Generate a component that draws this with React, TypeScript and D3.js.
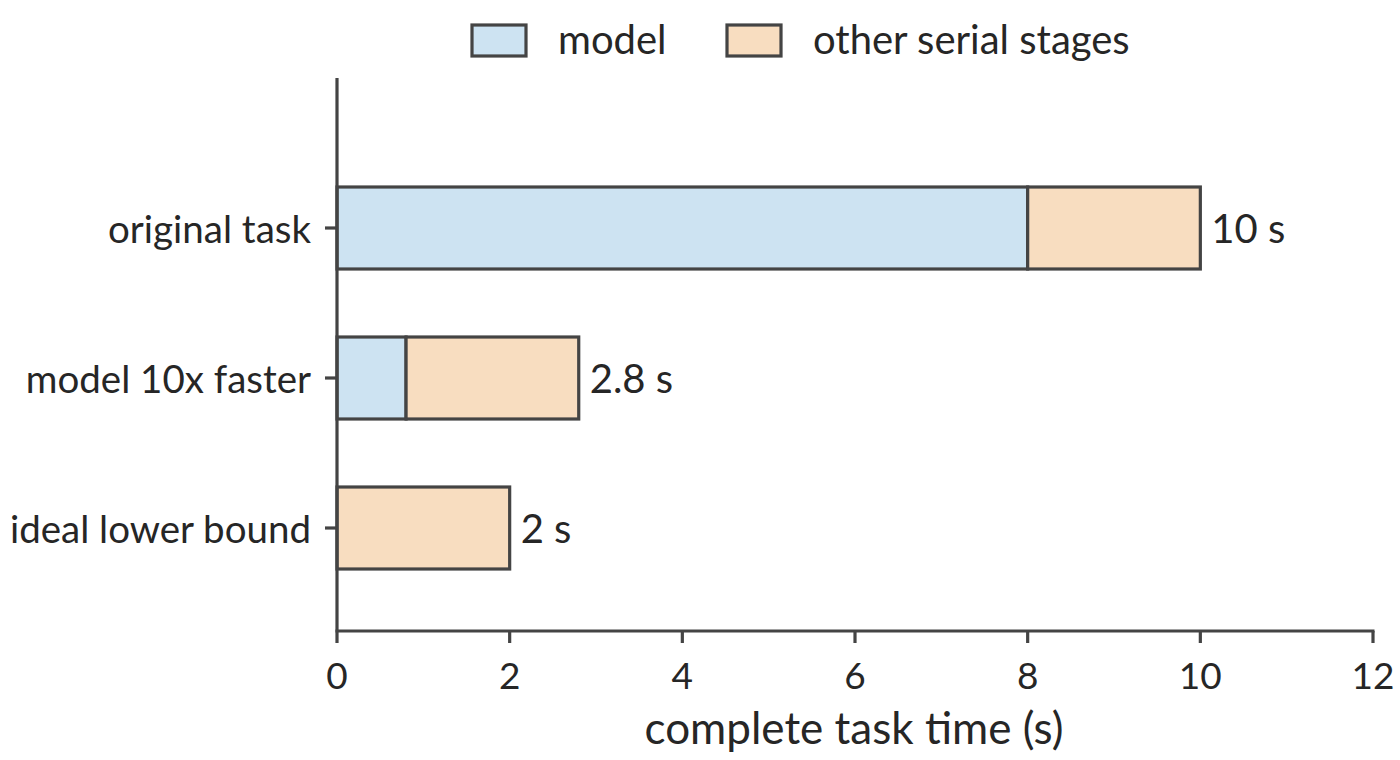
import React from "react";
import * as d3 from "d3";

const categories = ["original task", "model 10x faster", "ideal lower bound"];
const modelTime = [8, 0.8, 0];
const otherTime = [2, 2, 2];
const totalLabels = ["10 s", "2.8 s", "2 s"];
const xTicks = [0, 2, 4, 6, 8, 10, 12];
const seriesNames = ["model", "other serial stages"];
const seriesColors = ["#cde3f2", "#f8ddc0"];

const W = 1400;
const H = 760;
const FONT = "Lato, 'Noto Sans', sans-serif";
const STROKE = "#444444";
const TEXT = "#262626";

export default function App() {
  const x = d3.scaleLinear().domain([0, 12]).range([337, 1373]);
  const y = d3.scalePoint<string>().domain(categories).range([228, 528]);
  const barH = 82;
  const axisY = 631;
  const axisTop = 78;
  const sw = 3.2;

  return (
    <svg width={W} height={H} style={{ position: "absolute", left: 0, top: 0 }} fontFamily={FONT}>
      <rect width={W} height={H} fill="#fff" />
      {categories.map((c, i) => {
        const cy = y(c)!;
        const m = modelTime[i];
        const o = otherTime[i];
        return (
          <g key={c}>
            {m > 0 && (
              <rect x={x(0)} y={cy - barH / 2} width={x(m) - x(0)} height={barH}
                fill={seriesColors[0]} stroke={STROKE} strokeWidth={sw} />
            )}
            <rect x={x(m)} y={cy - barH / 2} width={x(m + o) - x(m)} height={barH}
              fill={seriesColors[1]} stroke={STROKE} strokeWidth={sw} />
            <text x={x(m + o) + 11} y={cy} dy="0.38em" fontSize={40} fill={TEXT}>
              {totalLabels[i]}
            </text>
            <line x1={x(0) - 12} x2={x(0)} y1={cy} y2={cy} stroke={STROKE} strokeWidth={sw} />
            <text x={x(0) - 26} y={cy} dy="0.38em" textAnchor="end" fontSize={38.5} fill={TEXT}>
              {c}
            </text>
          </g>
        );
      })}
      <line x1={x(0)} x2={x(0)} y1={axisTop} y2={axisY} stroke={STROKE} strokeWidth={sw} />
      <line x1={x(0) - 1.5} x2={x(12) + 1.5} y1={axisY} y2={axisY} stroke={STROKE} strokeWidth={sw} />
      {xTicks.map((t) => (
        <g key={t}>
          <line x1={x(t)} x2={x(t)} y1={axisY} y2={axisY + 12} stroke={STROKE} strokeWidth={sw} />
          <text x={x(t)} y={689} textAnchor="middle" fontSize={37} fill={TEXT}>
            {t}
          </text>
        </g>
      ))}
      <text x={854} y={744} textAnchor="middle" fontSize={44} fill={TEXT}>
        complete task time (s)
      </text>
      {seriesNames.map((s, i) => {
        const lx = [472, 727][i];
        return (
          <g key={s}>
            <rect x={lx} y={25} width={54} height={31} fill={seriesColors[i]} stroke={STROKE} strokeWidth={sw} />
            <text x={lx + 86} y={54} fontSize={40} fill={TEXT}>
              {s}
            </text>
          </g>
        );
      })}
    </svg>
  );
}
